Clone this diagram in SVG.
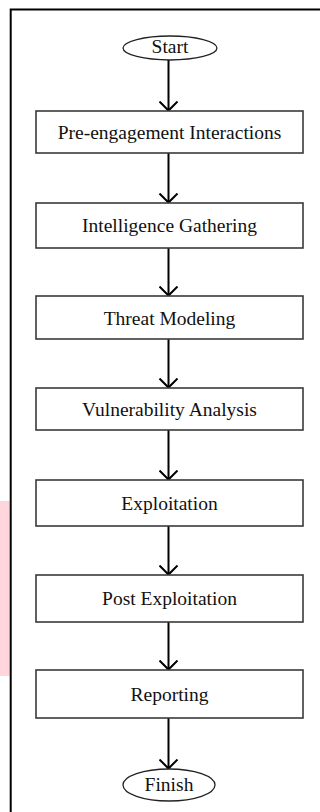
<svg xmlns="http://www.w3.org/2000/svg" width="320" height="812" viewBox="0 0 320 812">
<style>
.box{fill:#fff;stroke:#3a3a3a;stroke-width:1.6}
.term{fill:#fff;stroke:#222;stroke-width:1.3}
.lbl{font-family:"Liberation Serif","Times New Roman",serif;font-size:19.5px;fill:#111;text-anchor:middle}
.conn{stroke:#000;stroke-width:2;fill:none;marker-end:url(#ah)}
.frame{stroke:#000;stroke-width:2;fill:none}
</style>
<defs>
<marker id="ah" markerUnits="userSpaceOnUse" viewBox="-10 -10 20 20" markerWidth="20" markerHeight="20" refX="0" refY="0" orient="auto">
<path d="M-9,-9 L0,0 L-9,9" fill="none" stroke="#000" stroke-width="2"/>
</marker>
</defs>
<rect x="0" y="501" width="9.7" height="175" fill="#ffd6db"/>
<path class="frame" d="M10.7,812 V9.5 H320"/>
<g id="connectors">
<line class="conn" x1="168.5" y1="60" x2="168.5" y2="110.5"/>
<line class="conn" x1="168.5" y1="153" x2="168.5" y2="202.5"/>
<line class="conn" x1="168.5" y1="248" x2="168.5" y2="295.5"/>
<line class="conn" x1="168.5" y1="339" x2="168.5" y2="387.5"/>
<line class="conn" x1="168.5" y1="430" x2="168.5" y2="479.5"/>
<line class="conn" x1="168.5" y1="526" x2="168.5" y2="574.5"/>
<line class="conn" x1="168.5" y1="622" x2="168.5" y2="669.5"/>
<line class="conn" x1="168.5" y1="718" x2="168.5" y2="768.5"/>
</g>
<g id="start">
<ellipse class="term" cx="170" cy="48" rx="47" ry="12"/>
<text class="lbl" x="170" y="53">Start</text>
</g>
<g id="pre-engagement">
<rect class="box" x="36" y="111" width="267" height="42"/>
<text class="lbl" x="169.5" y="139">Pre-engagement Interactions</text>
</g>
<g id="intelligence">
<rect class="box" x="36" y="203" width="267" height="45"/>
<text class="lbl" x="169.5" y="232">Intelligence Gathering</text>
</g>
<g id="threat">
<rect class="box" x="36" y="296" width="267" height="43"/>
<text class="lbl" x="169.5" y="324.5">Threat Modeling</text>
</g>
<g id="vulnerability">
<rect class="box" x="36" y="388" width="267" height="42"/>
<text class="lbl" x="169.5" y="415.5">Vulnerability Analysis</text>
</g>
<g id="exploitation">
<rect class="box" x="36" y="480" width="267" height="46"/>
<text class="lbl" x="169.5" y="509.5">Exploitation</text>
</g>
<g id="post-exploitation">
<rect class="box" x="36" y="575" width="267" height="47"/>
<text class="lbl" x="169.5" y="604.5">Post Exploitation</text>
</g>
<g id="reporting">
<rect class="box" x="36" y="670" width="267" height="48"/>
<text class="lbl" x="169.5" y="701">Reporting</text>
</g>
<g id="finish">
<ellipse class="term" cx="169" cy="785" rx="46" ry="16"/>
<text class="lbl" x="169" y="790.5">Finish</text>
</g>
</svg>
